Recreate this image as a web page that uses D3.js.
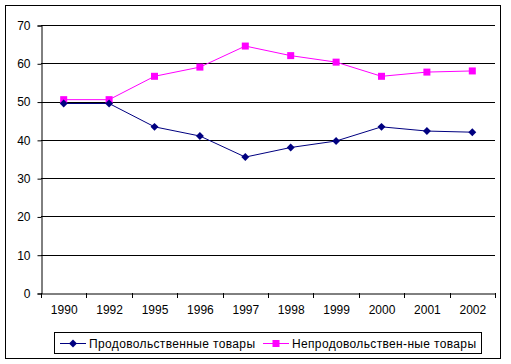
<!DOCTYPE html>
<html><head><meta charset="utf-8">
<script src="https://cdn.jsdelivr.net/npm/d3@7"></script>
<style>body{margin:0;background:#fff}svg{display:block}text{font-family:Arial,"Liberation Sans",sans-serif;font-size:12px;fill:#000}</style>
</head><body><svg id="c" width="511" height="364"></svg>
<script>
const years = ["1990","1992","1995","1996","1997","1998","1999","2000","2001","2002"];
const foodValues = [49.5,49.5,43.4,41.0,35.5,38.0,39.7,43.4,42.3,42.0];
const nonFoodValues = [50.5,50.5,56.6,59.0,64.5,62.0,60.3,56.6,57.7,58.0];
const seriesNames = ["Продовольственные товары","Непродовольствен-ные товары"];
const yTicks = [0,10,20,30,40,50,60,70];

const svg = d3.select("#c");
svg.append("rect").attr("x",5.5).attr("y",5.5).attr("width",495).attr("height",353)
  .attr("fill","#fff").attr("stroke","#000").attr("stroke-width",1);

const L=41, R=495, T=25, B=293;
const x = d3.scaleBand().domain(years).range([L,R]);
const y = d3.scaleLinear().domain([0,70]).range([B,T]);

// gridlines
svg.append("g").selectAll("line").data(yTicks.filter(d=>d>0)).join("line")
  .attr("x1",L).attr("x2",R).attr("y1",d=>Math.round(y(d))+0.5).attr("y2",d=>Math.round(y(d))+0.5)
  .attr("stroke","#000");

// y axis
const ya = svg.append("g").attr("transform",`translate(${L+0.5},0.5)`)
  .call(d3.axisLeft(y).tickValues(yTicks).tickSize(4).tickPadding(7).tickFormat(d3.format("d")));
ya.select(".domain").attr("stroke","#000");
ya.selectAll("line").attr("stroke","#000");
ya.selectAll("text").style("font-size","12px").attr("fill","#000");

// x axis
const xa = svg.append("g").attr("transform",`translate(0.5,${B+0.5})`)
  .call(d3.axisBottom(x).tickSize(0).tickPadding(12));
xa.select(".domain").attr("stroke","#000");
xa.selectAll("text").style("font-size","12px").attr("fill","#000");
svg.append("g").selectAll("line").data(d3.range(years.length+1)).join("line")
  .attr("x1",i=>Math.round(L+i*x.step())+0.5).attr("x2",i=>Math.round(L+i*x.step())+0.5)
  .attr("y1",B).attr("y2",B+5).attr("stroke","#000");

const cx = d=>x(d)+x.bandwidth()/2;
const line = vals => d3.line().x((d,i)=>cx(years[i])).y(d=>y(d))(vals);

// nonfood
svg.append("path").attr("d",line(nonFoodValues)).attr("fill","none").attr("stroke","#ff00ff").attr("stroke-width",1);
svg.append("g").selectAll("rect").data(nonFoodValues).join("rect")
  .attr("x",(d,i)=>cx(years[i])-3.5).attr("y",d=>y(d)-3.5).attr("width",7).attr("height",7).attr("fill","#ff00ff");
// food
svg.append("path").attr("d",line(foodValues)).attr("fill","none").attr("stroke","#000080").attr("stroke-width",1);
const diamond = d3.symbol().type(d3.symbolDiamond2).size(40);
svg.append("g").selectAll("path").data(foodValues).join("path")
  .attr("d",diamond).attr("transform",(d,i)=>`translate(${cx(years[i])},${y(d)})`).attr("fill","#000080");

// legend
svg.append("rect").attr("x",54.5).attr("y",332.5).attr("width",427).attr("height",21).attr("fill","#fff").attr("stroke","#000");
const lg = [{name:seriesNames[0],c:"#000080",x0:60,t:"d",w:166},{name:seriesNames[1],c:"#ff00ff",x0:263,t:"s",w:184}];
lg.forEach(o=>{
  svg.append("line").attr("x1",o.x0).attr("x2",o.x0+26).attr("y1",343.5).attr("y2",343.5).attr("stroke",o.c);
  if(o.t==="s") svg.append("rect").attr("x",o.x0+13-3.5).attr("y",340).attr("width",7).attr("height",7).attr("fill",o.c);
  else svg.append("path").attr("d",diamond).attr("transform",`translate(${o.x0+13},343.5)`).attr("fill",o.c);
  svg.append("text").attr("x",o.x0+29).attr("y",348).text(o.name)
    .attr("textLength",o.w).attr("lengthAdjust","spacing");
});
</script></body></html>
